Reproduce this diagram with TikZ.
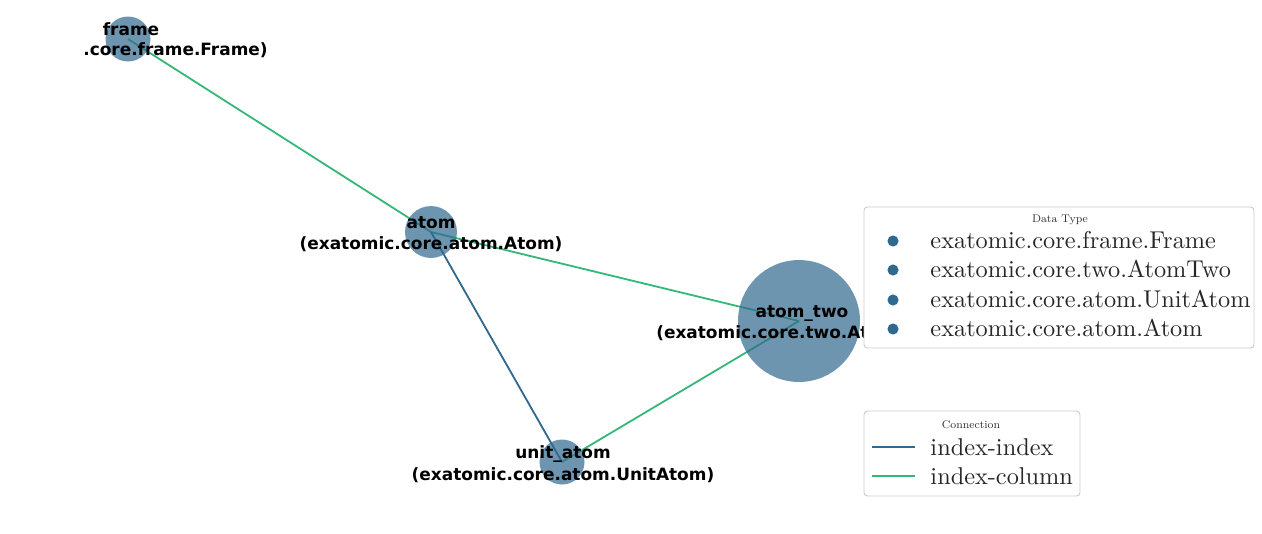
\documentclass[tikz,border=0pt]{standalone}
\usepackage{fontspec}
\setsansfont{DejaVu Sans}
\usepackage{xcolor}
\usepackage{tikz}
\usetikzlibrary{positioning}
\definecolor{vblue}{HTML}{31688E}
\definecolor{vgreen}{HTML}{35B779}
\definecolor{lgdgray}{HTML}{CCCCCC}
\pgfdeclarelayer{edges}
\pgfsetlayers{edges,main}

\begin{document}
\begin{tikzpicture}[x=0.72pt, y=-0.72pt,
  dtype/.style={circle, fill=vblue, fill opacity=0.7, inner sep=0pt},
  lbl/.style={font=\fontsize{12.2}{15.4}\selectfont\sffamily\bfseries, align=center, inner sep=0pt},
  idxidx/.style={vblue, line width=1.3pt},
  idxcol/.style={vgreen, line width=1.3pt},
  lgdbox/.style={draw=lgdgray, fill=white, rounded corners=2.5pt, line width=0.7pt},
  lgdtitle/.style={font=\fontsize{8}{9.6}\selectfont, text=black!80, inner sep=0pt},
  lgdtext/.style={font=\fontsize{10}{12}\selectfont, scale=1.75, text=black!85, anchor=base west, inner sep=0pt},
  lgdmark/.style={circle, fill=vblue, minimum size=8pt, inner sep=0pt}]
\useasboundingbox (0,0) rectangle (1262,533);

% data types
\node[dtype, minimum size=32.4pt] (frame) at (128,39) {};
\node[dtype, minimum size=37.4pt] (atom) at (431,232) {};
\node[dtype, minimum size=87.8pt] (atomtwo) at (799,321) {};
\node[dtype, minimum size=32.4pt] (unitatom) at (562,462) {};

% connections
\begin{pgfonlayer}{edges}
\draw[idxcol] (frame.center) -- (atom.center);
\draw[idxcol] (atom.center) -- (atomtwo.center);
\draw[idxidx] (atom.center) -- (unitatom.center);
\draw[idxcol] (unitatom.center) -- (atomtwo.center);
\end{pgfonlayer}

% labels
\node[lbl] (framelbl) at (131,29.5) {frame};
\node[lbl] (framelbltwo) at (175.5,50.5) {.core.frame.Frame)};
\node[lbl] (atomlbl) at (431,234) {atom\\(exatomic.core.atom.Atom)};
\node[lbl] (atomtwolbl) at (802,313.5) {atom\_two};
\node[lbl, anchor=west] (atomtwolbltwo) at (656,333) {(exatomic.core.two.At};
\node[lbl] (unitatomlbl) at (563,464) {unit\_atom\\(exatomic.core.atom.UnitAtom)};

% legend: data type
\draw[lgdbox] (864,207) rectangle (1254,348);
\node[lgdtitle] (typetitle) at (1060,219.5) {Data Type};
\foreach \y/\t [count=\i] in {241/exatomic.core.frame.Frame, 270/exatomic.core.two.AtomTwo,
    300/exatomic.core.atom.UnitAtom, 329/exatomic.core.atom.Atom} {
  \node[lgdmark] (mark\i) at (893,\y) {};
  \node[lgdtext] (entry\i) at (930,\y+7.5) {\t};
}

% legend: connection
\draw[lgdbox] (864,411) rectangle (1080,496);
\node[lgdtitle] (conntitle) at (971,424.5) {Connection};
\coordinate (iia) at (872,447);
\coordinate (iib) at (915,447);
\coordinate (ica) at (872,476);
\coordinate (icb) at (915,476);
\draw[idxidx, line width=1.6pt] (iia) -- (iib);
\draw[idxcol, line width=1.6pt] (ica) -- (icb);
\node[lgdtext] (iitext) at (930,455) {index-index};
\node[lgdtext] (ictext) at (930,484) {index-column};
\end{tikzpicture}
\end{document}
